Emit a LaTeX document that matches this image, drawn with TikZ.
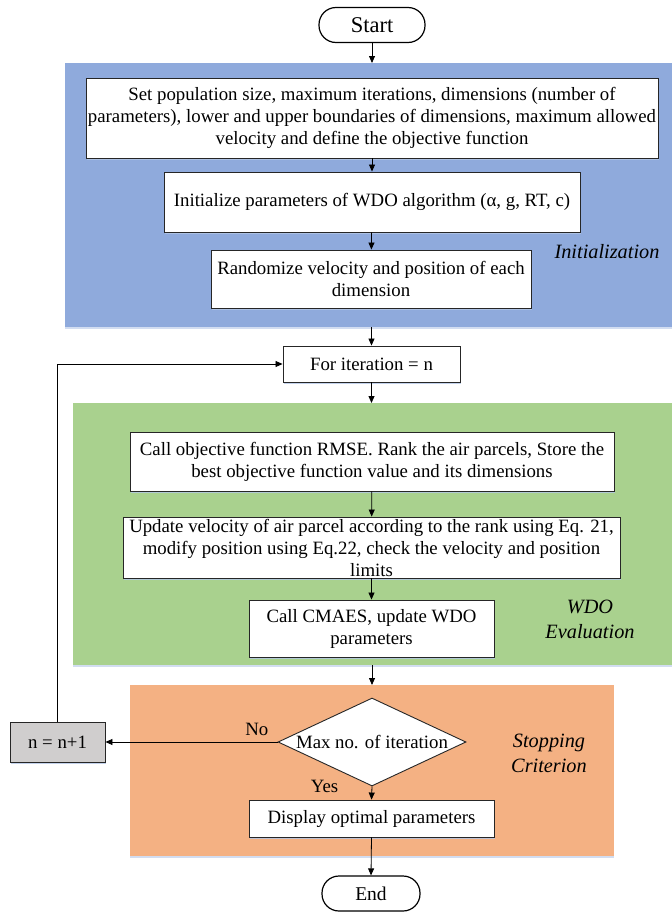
\documentclass[tikz,border=0pt]{standalone}
\usepackage{fontspec}
\setmainfont{Liberation Serif}
\usetikzlibrary{shapes.geometric,arrows.meta,shadows}
\definecolor{initblue}{HTML}{8FAADC}
\definecolor{evalgreen}{HTML}{A9D18E}
\definecolor{stoporange}{HTML}{F4B183}
\definecolor{stepgray}{HTML}{D0CECE}
\definecolor{shadowblue}{HTML}{B4C7E7}
\begin{document}
\begin{tikzpicture}[x=1pt,y=-1pt,
  font=\fontsize{18.8}{22}\selectfont,
  panel/.style={draw=none, inner sep=0pt, anchor=north west,
    drop shadow={shadow xshift=0pt, shadow yshift=-2pt, fill=shadowblue, opacity=0.6}},
  procbox/.style={draw=black!85, line width=0.9pt, fill=white, align=center, inner sep=1pt,
    drop shadow={shadow xshift=1pt, shadow yshift=-2pt, fill=shadowblue, opacity=0.8}},
  termbox/.style={draw=black, line width=1.2pt, fill=white, rounded corners=17pt, inner sep=0pt},
  decbox/.style={diamond, draw=black!85, line width=0.9pt, fill=white, aspect=2.1, inner sep=0pt},
  phase/.style={font=\fontsize{20.3}{25}\selectfont\itshape, align=center},
  arr/.style={draw=black, line width=0.8pt, -{Triangle[length=7pt,width=6pt]}}
]
\useasboundingbox (0,0) rectangle (672,913);

% panels
\node[panel, fill=initblue, minimum width=607pt, minimum height=264pt] (pinit) at (65,63) {};
\node[panel, fill=evalgreen, minimum width=599pt, minimum height=262pt] (peval) at (73,403) {};
\node[panel, fill=stoporange, minimum width=484pt, minimum height=171pt] (pstop) at (130,685) {};

% terminators
\node[termbox, minimum width=106pt, minimum height=35pt, font=\fontsize{22.5}{26}\selectfont] (start) at (372,25) {Start};
\node[termbox, minimum width=98pt, minimum height=35pt, font=\fontsize{19.5}{24}\selectfont] (end) at (371,893.5) {End};

% initialization
\node[procbox, minimum width=572pt, minimum height=80pt] (b1) at (372,118)
  {Set population size, maximum iterations, dimensions (number of\\
   parameters), lower and upper boundaries of dimensions, maximum allowed\\
   velocity and define the objective function};
\node[procbox, minimum width=416pt, minimum height=60pt] (b2) at (372,202)
  {Initialize parameters of WDO algorithm (α, g, RT, c)};
\node[procbox, minimum width=320pt, minimum height=58pt] (b3) at (371,279)
  {Randomize velocity and position of each\\ dimension};
\node[phase] (linit) at (607,252) {Initialization};

% loop head
\node[procbox, minimum width=177pt, minimum height=36pt] (for) at (371.5,364) {For iteration = n};

% evaluation
\node[procbox, minimum width=484pt, minimum height=59pt] (b4) at (372,461.5)
  {Call objective function RMSE. Rank the air parcels, Store the\\
   best objective function value and its dimensions};
\node[procbox, minimum width=497pt, minimum height=61pt] (b5) at (371.5,547.5)
  {Update velocity of air parcel according to the rank using Eq. 21,\\
   modify position using Eq.22, check the velocity and position\\ limits};
\node[procbox, minimum width=245pt, minimum height=57pt] (b6) at (371.5,628.5)
  {Call CMAES, update WDO\\ parameters};
\node[phase] (leval) at (590,619.5) {WDO\\ Evaluation};

% stopping
\node[decbox, minimum width=188pt, minimum height=88pt] (dia) at (372,742) {Max no. of iteration};
\node[procbox, minimum width=245pt, minimum height=37pt] (disp) at (371.5,818.5) {Display optimal parameters};
\node[phase] (lstop) at (549,753) {Stopping\\ Criterion};

\node[procbox, fill=stepgray, minimum width=95pt, minimum height=40pt] (incr) at (57.5,742) {n = n+1};

% connectors
\draw[arr] (start.south) -- (start.south |- pinit.north);
\draw[arr] (b1) -- (b2);
\draw[arr] (b2) -- (b3);
\draw[arr] (for.north |- pinit.south) -- (for.north);
\draw[arr] (for.south) -- (for.south |- peval.north);
\draw[arr] (b4) -- (b5);
\draw[arr] (b5) -- (b6);
\draw[arr] (dia.north |- peval.south) -- (dia.north |- pstop.north);
\draw[arr] (dia.west) -- node[pos=0.12, above=3pt]{No} (incr.east);
\draw[arr] (dia.south) -- node[pos=0, left=30pt, anchor=east]{Yes} (disp.north);
\draw[arr] (disp.south) -- (end.north);
\draw[arr] (incr.north) |- (for.west);
\end{tikzpicture}
\end{document}
